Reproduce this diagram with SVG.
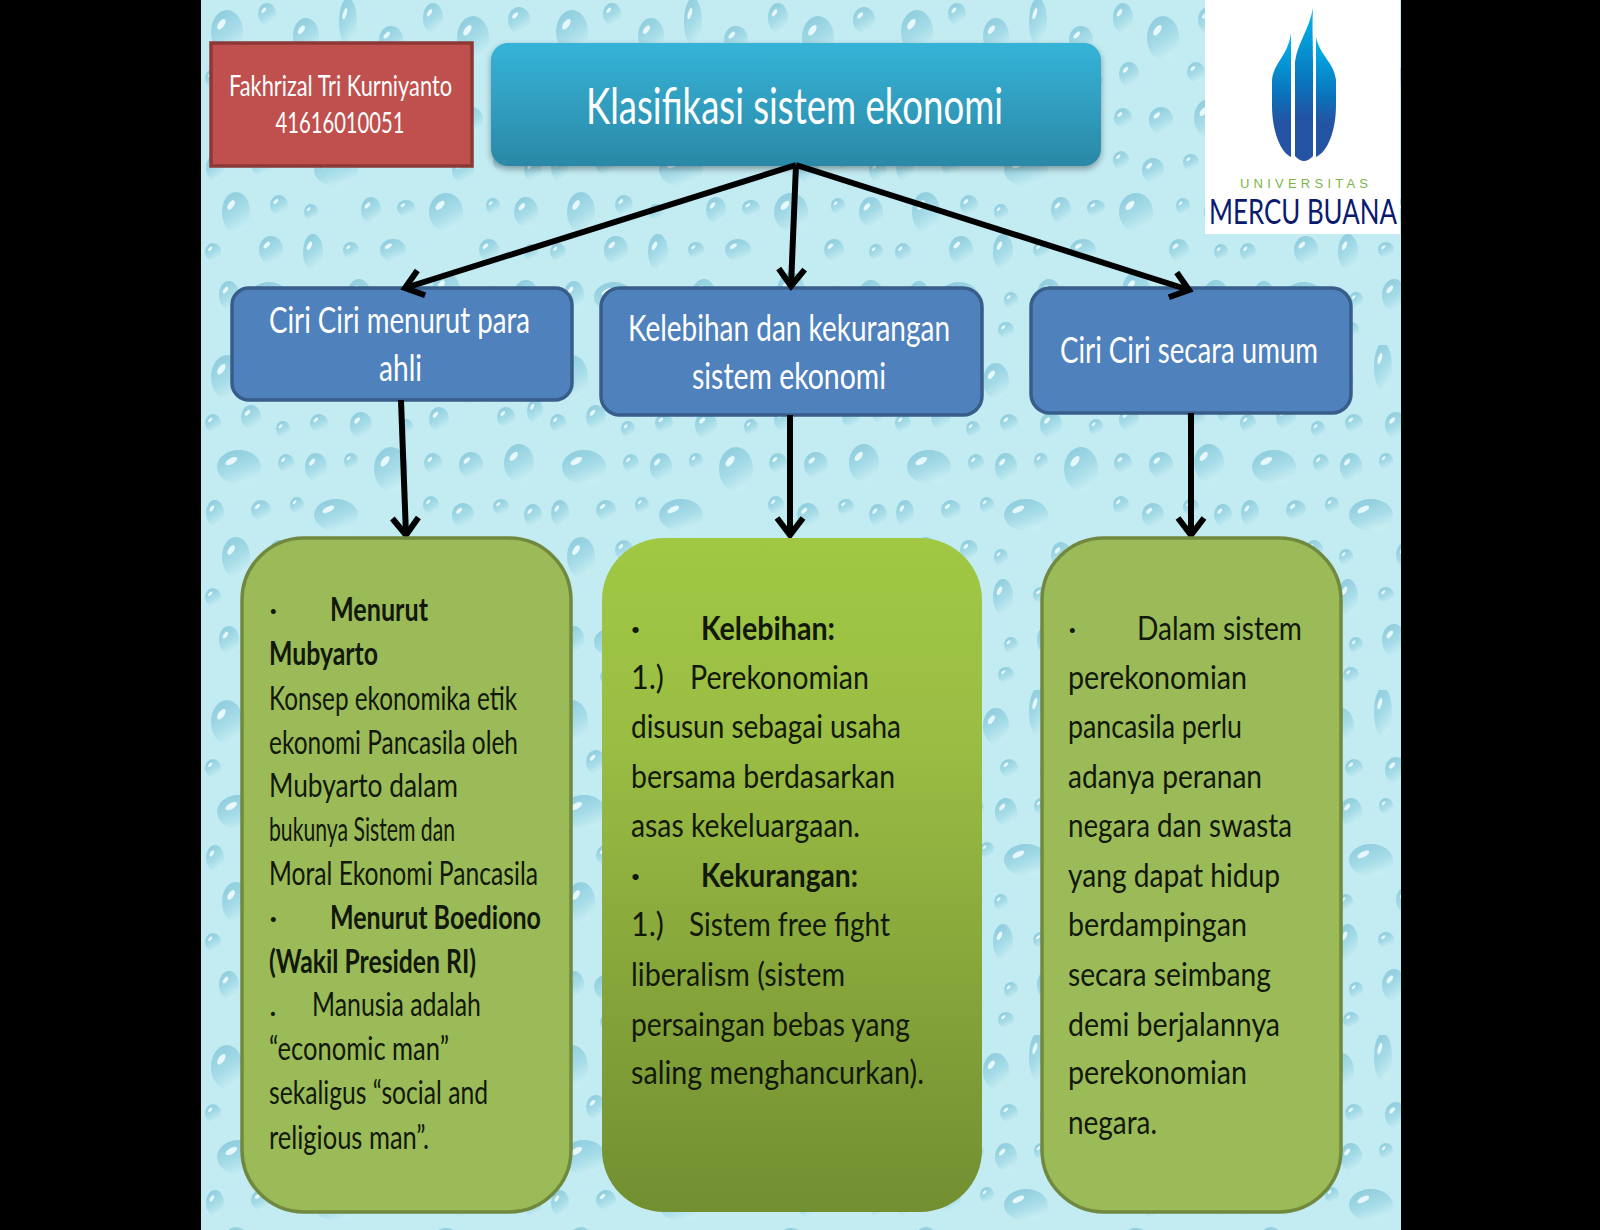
<svg xmlns="http://www.w3.org/2000/svg" xmlns:xlink="http://www.w3.org/1999/xlink" width="1600" height="1230" viewBox="0 0 1600 1230">
<style>
text{font-family:"Lato","Liberation Sans",sans-serif;}
.b{font-size:33px;fill:#12180a;}
.s{font-weight:700;}
.w{fill:#fff;}
.e{fill:none;stroke:#000;stroke-width:6;}
.blue{fill:#4f81bd;stroke:#385d8a;stroke-width:3.5;}
.green{stroke:#71893f;stroke-width:3.5;}
</style>
<defs>
<linearGradient id="title" x1="0" y1="0" x2="0" y2="1"><stop offset="0" stop-color="#35b4d8"/><stop offset="1" stop-color="#2b88a6"/></linearGradient>
<linearGradient id="g2" x1="0" y1="0" x2="0" y2="1"><stop offset="0" stop-color="#a0c843"/><stop offset="0.3" stop-color="#9abd44"/><stop offset="1" stop-color="#728f31"/></linearGradient>
<linearGradient id="flame" x1="0" y1="0" x2="0" y2="1"><stop offset="0" stop-color="#00b8ee"/><stop offset="0.5" stop-color="#0b72ba"/><stop offset="0.72" stop-color="#2453a4"/><stop offset="1" stop-color="#2453a4"/></linearGradient>
<linearGradient id="drop" x1="0.2" y1="0" x2="0.7" y2="1"><stop offset="0" stop-color="#8ccbdc"/><stop offset="0.55" stop-color="#a6dce8"/><stop offset="1" stop-color="#cdf0f5"/></linearGradient>
<g id="dp"><ellipse rx="1" ry="1" fill="url(#drop)"/><ellipse cx="-0.35" cy="-0.35" rx="0.32" ry="0.16" fill="#e6f8fb" transform="rotate(-40 -0.35 -0.35)"/></g>
<filter id="sh" x="-5%" y="-10%" width="110%" height="125%"><feDropShadow dx="0" dy="3" stdDeviation="3" flood-color="#000" flood-opacity="0.35"/></filter>
<filter id="soft"><feGaussianBlur stdDeviation="0.7"/></filter>
<pattern id="drops" width="345" height="345" patternUnits="userSpaceOnUse" x="201" y="0">
<rect width="345" height="345" fill="#c2ebf2"/>
<g filter="url(#soft)">
<use href="#dp" transform="translate(26 32) scale(16 22)"/><use href="#dp" transform="translate(66 14) scale(9 11)"/><use href="#dp" transform="translate(105 36) scale(13 18)"/><use href="#dp" transform="translate(147 22) scale(9 24)"/><use href="#dp" transform="translate(190 40) scale(12 14)"/><use href="#dp" transform="translate(232 18) scale(10 15)"/><use href="#dp" transform="translate(272 38) scale(16 22)"/><use href="#dp" transform="translate(318 20) scale(11 13)"/>
<use href="#dp" transform="translate(12 78) scale(8 9)"/><use href="#dp" transform="translate(50 72) scale(10 12)"/><use href="#dp" transform="translate(82 84) scale(7 8)"/><use href="#dp" transform="translate(118 78) scale(9 9)"/><use href="#dp" transform="translate(160 80) scale(11 13)"/><use href="#dp" transform="translate(205 82) scale(7 8)"/><use href="#dp" transform="translate(238 74) scale(10 12)"/><use href="#dp" transform="translate(305 72) scale(9 10)"/><use href="#dp" transform="translate(334 66) scale(8 12)"/>
<use href="#dp" transform="translate(38 122) scale(22 17)"/><use href="#dp" transform="translate(85 118) scale(8 9)"/><use href="#dp" transform="translate(115 122) scale(11 14)"/><use href="#dp" transform="translate(150 116) scale(7 8)"/><use href="#dp" transform="translate(190 124) scale(17 22)"/><use href="#dp" transform="translate(232 118) scale(9 10)"/><use href="#dp" transform="translate(270 120) scale(12 13)"/><use href="#dp" transform="translate(318 118) scale(15 19)"/>
<use href="#dp" transform="translate(14 168) scale(9 13)"/><use href="#dp" transform="translate(60 165) scale(10 10)"/><use href="#dp" transform="translate(96 160) scale(7 8)"/><use href="#dp" transform="translate(135 170) scale(22 16)"/><use href="#dp" transform="translate(230 160) scale(8 9)"/><use href="#dp" transform="translate(262 170) scale(11 12)"/><use href="#dp" transform="translate(300 162) scale(8 8)"/><use href="#dp" transform="translate(332 170) scale(9 11)"/>
<use href="#dp" transform="translate(35 212) scale(14 20)"/><use href="#dp" transform="translate(78 205) scale(9 10)"/><use href="#dp" transform="translate(110 212) scale(7 8)"/><use href="#dp" transform="translate(170 210) scale(10 13)"/><use href="#dp" transform="translate(205 208) scale(9 8)"/><use href="#dp" transform="translate(245 212) scale(17 19)"/><use href="#dp" transform="translate(292 206) scale(7 8)"/><use href="#dp" transform="translate(325 212) scale(12 15)"/>
<use href="#dp" transform="translate(12 252) scale(8 9)"/><use href="#dp" transform="translate(70 250) scale(12 14)"/><use href="#dp" transform="translate(112 252) scale(10 18)"/><use href="#dp" transform="translate(150 250) scale(8 8)"/><use href="#dp" transform="translate(192 250) scale(13 11)"/><use href="#dp" transform="translate(288 250) scale(10 11)"/><use href="#dp" transform="translate(330 252) scale(7 8)"/>
<use href="#dp" transform="translate(28 295) scale(10 14)"/><use href="#dp" transform="translate(68 297) scale(20 15)"/><use href="#dp" transform="translate(120 300) scale(7 8)"/><use href="#dp" transform="translate(158 295) scale(12 16)"/><use href="#dp" transform="translate(205 298) scale(9 10)"/><use href="#dp" transform="translate(245 292) scale(14 20)"/><use href="#dp" transform="translate(290 295) scale(8 9)"/><use href="#dp" transform="translate(325 297) scale(13 17)"/>
<use href="#dp" transform="translate(60 332) scale(6 7)"/><use href="#dp" transform="translate(115 330) scale(8 8)"/><use href="#dp" transform="translate(200 332) scale(7 7)"/><use href="#dp" transform="translate(290 330) scale(7 8)"/>
</g>
</pattern>
<marker id="ah" markerUnits="userSpaceOnUse" markerWidth="36" markerHeight="36" refX="22" refY="14" orient="auto" overflow="visible"><path d="M5 1 L22 14 L5 27" fill="none" stroke="#000" stroke-width="6"/></marker>
</defs>
<rect width="1600" height="1230" fill="#000"/>
<rect x="201" y="0" width="1200" height="1230" fill="url(#drops)"/>
<g id="logo">
<rect x="1205" y="0" width="195" height="234" fill="#fff"/>
<path d="M1313 8 C1312 28 1313 36 1313 60 L1313 156 Q1304 166 1295 156 L1295 62 C1297 44 1309 30 1313 8Z" fill="url(#flame)"/>
<path d="M1291 33 L1291 157 C1280 152 1272 130 1272 105 L1272 80 C1274 62 1288 56 1291 33Z" fill="url(#flame)"/>
<path d="M1316 37 L1316 157 C1328 152 1336 130 1336 105 L1336 80 C1334 62 1320 56 1316 37Z" fill="url(#flame)"/>
<text x="1240" y="188" font-size="13" fill="#7ab648" textLength="128" style="font-family:'Liberation Sans',sans-serif">UNIVERSITAS</text>
<text x="1209" y="224" font-size="34" fill="#0b1a6e" textLength="188" lengthAdjust="spacingAndGlyphs" style="font-family:'Lato',sans-serif">MERCU BUANA</text>
</g>
<g id="n-author">
<rect x="211" y="43" width="261" height="123" fill="#c0504d" stroke="#8c3836" stroke-width="3.5"/>
<text class="w" x="229" y="96" font-size="29" textLength="223" lengthAdjust="spacingAndGlyphs">Fakhrizal Tri Kurniyanto</text>
<text class="w" x="275.5" y="133" font-size="29" textLength="129" lengthAdjust="spacingAndGlyphs">41616010051</text>
</g>
<g id="n-title">
<rect x="491" y="43" width="610" height="123" rx="17" fill="url(#title)" filter="url(#sh)"/>
<text class="w" x="586" y="124" font-size="50" textLength="417" lengthAdjust="spacingAndGlyphs">Klasifikasi sistem ekonomi</text>
</g>
<g id="n-ciri-ahli">
<rect class="blue" x="232" y="288" width="340" height="112" rx="17"/>
<text class="w" x="269" y="333" font-size="36" textLength="261" lengthAdjust="spacingAndGlyphs">Ciri Ciri menurut para</text>
<text class="w" x="379" y="381" font-size="36" textLength="43" lengthAdjust="spacingAndGlyphs">ahli</text>
</g>
<g id="n-kelebihan">
<rect class="blue" x="601" y="288" width="381" height="127" rx="19"/>
<text class="w" x="628" y="341" font-size="36" textLength="322" lengthAdjust="spacingAndGlyphs">Kelebihan dan kekurangan</text>
<text class="w" x="692" y="389" font-size="36" textLength="194" lengthAdjust="spacingAndGlyphs">sistem ekonomi</text>
</g>
<g id="n-ciri-umum">
<rect class="blue" x="1031" y="288" width="320" height="125" rx="19"/>
<text class="w" x="1060" y="363" font-size="36" textLength="258" lengthAdjust="spacingAndGlyphs">Ciri Ciri secara umum</text>
</g>
<g id="connectors">
<path class="e" marker-end="url(#ah)" d="M796 165 L405 288"/>
<path class="e" marker-end="url(#ah)" d="M796 165 L791 286"/>
<path class="e" marker-end="url(#ah)" d="M796 165 L1189 290"/>
<path class="e" marker-end="url(#ah)" d="M401 400 L406 535"/>
<path class="e" marker-end="url(#ah)" d="M790 415 L790 535"/>
<path class="e" marker-end="url(#ah)" d="M1191 413 L1191 535"/>
</g>
<g id="n-box-ahli">
<rect class="green" x="242" y="538" width="329" height="674" rx="62" fill="#9bbb59"/>
<text class="b" x="269" y="621">·</text><text class="b s" x="330" y="621" textLength="98" lengthAdjust="spacingAndGlyphs">Menurut</text>
<text class="b s" x="269" y="665" textLength="109" lengthAdjust="spacingAndGlyphs">Mubyarto</text>
<text class="b" x="269" y="710" textLength="248" lengthAdjust="spacingAndGlyphs">Konsep ekonomika etik</text>
<text class="b" x="269" y="754" textLength="249" lengthAdjust="spacingAndGlyphs">ekonomi Pancasila oleh</text>
<text class="b" x="269" y="797" textLength="189" lengthAdjust="spacingAndGlyphs">Mubyarto dalam</text>
<text class="b" x="269" y="841" textLength="186" lengthAdjust="spacingAndGlyphs">bukunya Sistem dan</text>
<text class="b" x="269" y="885" textLength="269" lengthAdjust="spacingAndGlyphs">Moral Ekonomi Pancasila</text>
<text class="b" x="269" y="929">·</text><text class="b s" x="330" y="929" textLength="211" lengthAdjust="spacingAndGlyphs">Menurut Boediono</text>
<text class="b s" x="269" y="973" textLength="207" lengthAdjust="spacingAndGlyphs">(Wakil Presiden RI)</text>
<text class="b" x="269" y="1016">.</text><text class="b" x="312" y="1016" textLength="169" lengthAdjust="spacingAndGlyphs">Manusia adalah</text>
<text class="b" x="269" y="1060" textLength="180" lengthAdjust="spacingAndGlyphs">“economic man”</text>
<text class="b" x="269" y="1104" textLength="219" lengthAdjust="spacingAndGlyphs">sekaligus “social and</text>
<text class="b" x="269" y="1149" textLength="160" lengthAdjust="spacingAndGlyphs">religious man”.</text>
</g>
<g id="n-box-kelebihan">
<rect x="602" y="538" width="380" height="674" rx="62" fill="url(#g2)"/>
<text class="b s" x="631" y="640">·</text><text class="b s" x="701" y="640" textLength="134" lengthAdjust="spacingAndGlyphs">Kelebihan:</text>
<text class="b" x="631" y="689" textLength="33" lengthAdjust="spacingAndGlyphs">1.)</text><text class="b" x="690" y="689" textLength="179" lengthAdjust="spacingAndGlyphs">Perekonomian</text>
<text class="b" x="631" y="738" textLength="270" lengthAdjust="spacingAndGlyphs">disusun sebagai usaha</text>
<text class="b" x="631" y="788" textLength="264" lengthAdjust="spacingAndGlyphs">bersama berdasarkan</text>
<text class="b" x="631" y="837" textLength="229" lengthAdjust="spacingAndGlyphs">asas kekeluargaan.</text>
<text class="b s" x="631" y="887">·</text><text class="b s" x="701" y="887" textLength="157" lengthAdjust="spacingAndGlyphs">Kekurangan:</text>
<text class="b" x="631" y="936" textLength="33" lengthAdjust="spacingAndGlyphs">1.)</text><text class="b" x="689" y="936" textLength="201" lengthAdjust="spacingAndGlyphs">Sistem free fight</text>
<text class="b" x="631" y="986" textLength="214" lengthAdjust="spacingAndGlyphs">liberalism (sistem</text>
<text class="b" x="631" y="1036" textLength="279" lengthAdjust="spacingAndGlyphs">persaingan bebas yang</text>
<text class="b" x="631" y="1084" textLength="293" lengthAdjust="spacingAndGlyphs">saling menghancurkan).</text>
</g>
<g id="n-box-umum">
<rect class="green" x="1042" y="538" width="299" height="674" rx="62" fill="#9bbb59"/>
<text class="b" x="1068" y="640">·</text><text class="b" x="1137" y="640" textLength="165" lengthAdjust="spacingAndGlyphs">Dalam sistem</text>
<text class="b" x="1068" y="689" textLength="179" lengthAdjust="spacingAndGlyphs">perekonomian</text>
<text class="b" x="1068" y="738" textLength="174" lengthAdjust="spacingAndGlyphs">pancasila perlu</text>
<text class="b" x="1068" y="788" textLength="194" lengthAdjust="spacingAndGlyphs">adanya peranan</text>
<text class="b" x="1068" y="837" textLength="224" lengthAdjust="spacingAndGlyphs">negara dan swasta</text>
<text class="b" x="1068" y="887" textLength="212" lengthAdjust="spacingAndGlyphs">yang dapat hidup</text>
<text class="b" x="1068" y="936" textLength="179" lengthAdjust="spacingAndGlyphs">berdampingan</text>
<text class="b" x="1068" y="986" textLength="203" lengthAdjust="spacingAndGlyphs">secara seimbang</text>
<text class="b" x="1068" y="1036" textLength="212" lengthAdjust="spacingAndGlyphs">demi berjalannya</text>
<text class="b" x="1068" y="1084" textLength="179" lengthAdjust="spacingAndGlyphs">perekonomian</text>
<text class="b" x="1068" y="1134" textLength="89" lengthAdjust="spacingAndGlyphs">negara.</text>
</g>
</svg>
